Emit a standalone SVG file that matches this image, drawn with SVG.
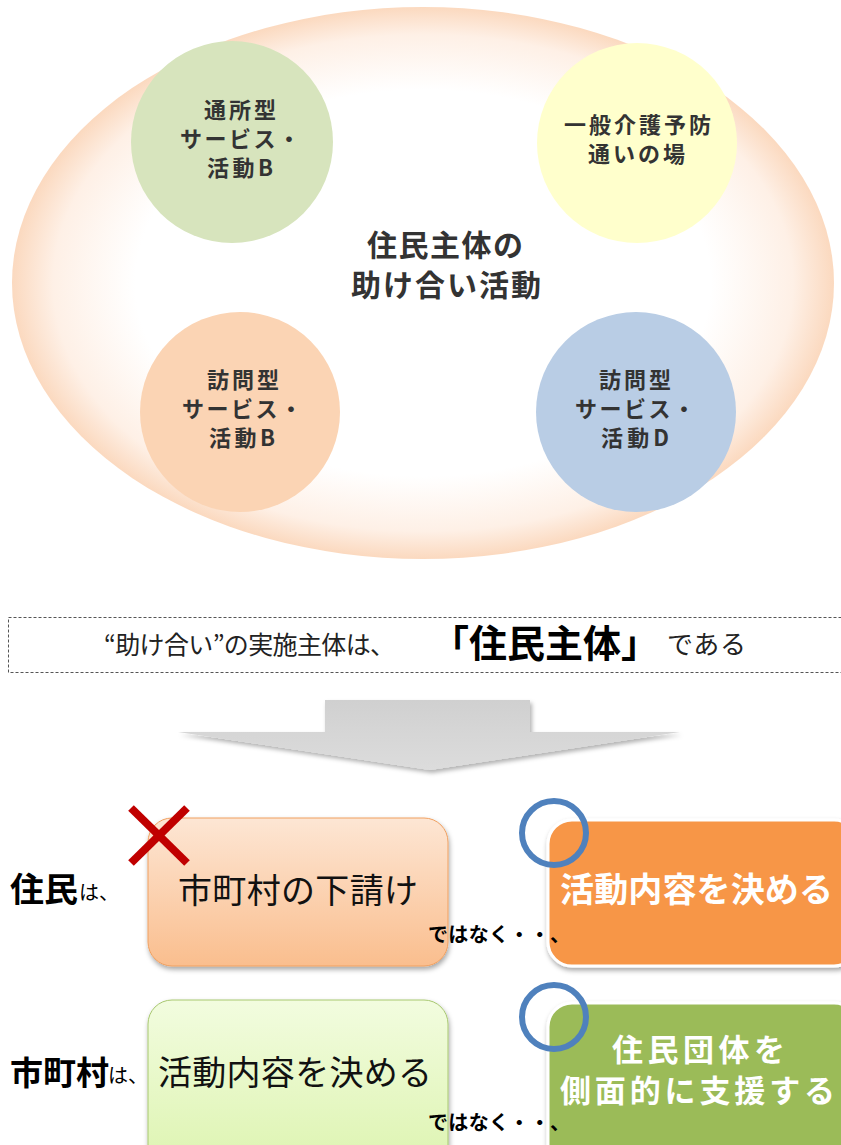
<svg xmlns="http://www.w3.org/2000/svg" width="841" height="1145" viewBox="0 0 841 1145">
<defs>
<radialGradient id="bigG" cx="50%" cy="50%" r="50%">
<stop offset="0" stop-color="#FFFFFF"/>
<stop offset="0.7" stop-color="#FFFFFF"/>
<stop offset="0.9" stop-color="#FEF0E6"/>
<stop offset="1" stop-color="#FBD9BF"/>
</radialGradient>
<linearGradient id="g1" x1="0" y1="0" x2="0" y2="1">
<stop offset="0" stop-color="#FDE6D4"/>
<stop offset="1" stop-color="#FABE8E"/>
</linearGradient>
<linearGradient id="g3" x1="0" y1="0" x2="0" y2="1">
<stop offset="0" stop-color="#F2FCDF"/>
<stop offset="1" stop-color="#DDF4B0"/>
</linearGradient>
<linearGradient id="arrG" x1="0" y1="0" x2="0" y2="1">
<stop offset="0" stop-color="#D0D0D0"/>
<stop offset="1" stop-color="#DCDCDC"/>
</linearGradient>
<filter id="sh" x="-10%" y="-10%" width="130%" height="130%">
<feDropShadow dx="1" dy="3" stdDeviation="2.5" flood-color="#000" flood-opacity="0.35"/>
</filter>
<filter id="sh2" x="-10%" y="-10%" width="130%" height="140%">
<feDropShadow dx="2" dy="3" stdDeviation="2" flood-color="#000" flood-opacity="0.3"/>
</filter>
</defs>
<style>
text{font-family:"Noto Sans CJK JP","Noto Sans",sans-serif;}
.ct{font-size:22px;font-weight:bold;fill:#333333;}
.mid{font-size:30px;font-weight:bold;fill:#333333;}
.wt{font-weight:bold;fill:#FFFFFF;font-size:34px;}
.wt2{font-weight:bold;fill:#FFFFFF;font-size:31px;}
.nk{font-size:20px;font-weight:bold;fill:#000;}
.big{font-size:34px;fill:#111;}
.ring{fill:none;stroke:#4F81BD;stroke-width:6;}
</style>
<rect width="841" height="1145" fill="#FFFFFF"/>

<g id="background-ellipse">
<ellipse cx="423" cy="283" rx="411" ry="276" fill="url(#bigG)"/>
</g>

<g id="node-tsusho">
<circle cx="232" cy="142" r="101" fill="#D7E4BD"/>
<text class="ct" x="204" y="118" textLength="72">通所型</text>
<text class="ct" x="180" y="147" textLength="120">サービス・</text>
<text class="ct" x="207" y="176" textLength="66">活動B</text>
</g>

<g id="node-ippan">
<circle cx="637" cy="143" r="100" fill="#FFFFCC"/>
<text class="ct" x="564" y="133" textLength="147">一般介護予防</text>
<text class="ct" x="588" y="162" textLength="97">通いの場</text>
</g>

<g id="node-houmon-b">
<circle cx="240" cy="412" r="100" fill="#FBD4B4"/>
<text class="ct" x="207" y="388" textLength="72">訪問型</text>
<text class="ct" x="182" y="417" textLength="120">サービス・</text>
<text class="ct" x="209" y="446" textLength="66">活動B</text>
</g>

<g id="node-houmon-d">
<circle cx="636" cy="412" r="100" fill="#B9CDE5"/>
<text class="ct" x="599" y="388" textLength="72">訪問型</text>
<text class="ct" x="575" y="417" textLength="120">サービス・</text>
<text class="ct" x="601" y="446" textLength="68">活動D</text>
</g>

<g id="node-center">
<text class="mid" x="367" y="256" textLength="156">住民主体の</text>
<text class="mid" x="351" y="296" textLength="190">助け合い活動</text>
</g>

<g id="node-statement">
<rect x="8.5" y="617.5" width="840" height="55" fill="none" stroke="#555" stroke-width="1" stroke-dasharray="3,2"/>
<text x="104" y="654" font-size="25" fill="#222" textLength="291">“助け合い”の実施主体は、</text>
<text x="431" y="657" font-size="38" font-weight="bold" fill="#000" textLength="228">「住民主体」</text>
<text x="667" y="654" font-size="26" fill="#222" textLength="79">である</text>
</g>

<g id="connectors">
<polygon points="325,700 530,700 530,732 680,732 430,770 178,732 325,732" fill="url(#arrG)" filter="url(#sh2)"/>
</g>

<g id="row1-label">
<text x="10" y="902" font-size="34" font-weight="bold" fill="#000">住民</text>
<text x="79" y="900" font-size="20" fill="#000">は、</text>
</g>

<g id="node-shitauke">
<rect x="148" y="818" width="300" height="148" rx="24" fill="url(#g1)" stroke="#F0A060" stroke-width="1" filter="url(#sh)"/>
<text class="big" x="178" y="903" textLength="240">市町村の下請け</text>
<g id="cross">
<line x1="131" y1="808" x2="187" y2="863" stroke="#C00000" stroke-width="8"/>
<line x1="187" y1="808" x2="131" y2="863" stroke="#C00000" stroke-width="8"/>
</g>
</g>

<g id="node-kimeru1">
<rect x="548" y="820" width="310" height="146" rx="24" fill="#F79646" stroke="#FFFFFF" stroke-width="3" filter="url(#sh)"/>
<text class="wt" x="560" y="902" textLength="273">活動内容を決める</text>
<circle class="ring" cx="554" cy="833" r="32"/>
</g>

<text class="nk" x="428" y="942" textLength="142">ではなく・・、</text>

<g id="row2-label">
<text x="10" y="1085" font-size="33" font-weight="bold" fill="#000">市町村</text>
<text x="108" y="1083" font-size="20" fill="#000">は、</text>
</g>

<g id="node-kimeru2">
<rect x="148" y="1000" width="300" height="170" rx="24" fill="url(#g3)" stroke="#A8C870" stroke-width="1" filter="url(#sh)"/>
<text class="big" x="158" y="1085" textLength="274">活動内容を決める</text>
</g>

<g id="node-shien">
<rect x="548" y="1003" width="310" height="170" rx="24" fill="#9BBB59" stroke="#FFFFFF" stroke-width="3" filter="url(#sh)"/>
<text class="wt2" x="612" y="1061" textLength="173">住民団体を</text>
<text class="wt2" x="560" y="1102" textLength="275">側面的に支援する</text>
<circle class="ring" cx="554" cy="1017" r="32"/>
</g>

<text class="nk" x="428" y="1130" textLength="142">ではなく・・、</text>
</svg>
